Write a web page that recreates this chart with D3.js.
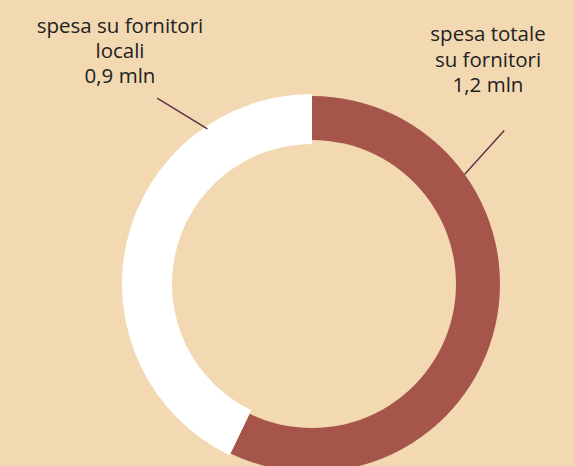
<!DOCTYPE html>
<html>
<head>
<meta charset="utf-8">
<script src="https://cdn.jsdelivr.net/npm/d3@7"></script>
<style>
    html, body { margin: 0; padding: 0; background: #f2d9b2; }
    svg { display: block; }
    .label { font-family: "Open Sans", sans-serif; font-size: 20.5px; fill: #222; }
</style>
</head>
<body>
<svg id="vis"></svg>
<script>
// data
var categories = ["spesa totale su fornitori", "spesa su fornitori locali"];
var values = [1.2, 0.9];
var valueLabels = ["1,2 mln", "0,9 mln"];
var labelLines = [
    ["spesa totale", "su fornitori", "1,2 mln"],
    ["spesa su fornitori", "locali", "0,9 mln"]
];

// layout
var width = 574, height = 466;
var cx = 312, cy = 284;
var colors = ["#a6554a", "#ffffff"];
var radii = [{ inner: 144, outer: 188 }, { inner: 140, outer: 190 }];
// label anchor = baseline of middle line, relative to centre
var labelPos = [{ x: 176, y: -217.5 }, { x: -192, y: -226 }];
// leader lines in polar coords (degrees clockwise from 12 o'clock)
var leaders = [
    { a0: 51.4, r0: 246, a1: 54.3, r1: 188 },
    { a0: -39.8, r0: 242, a1: -34, r1: 187 }
];
var lineHeight = 25.3;

var svg = d3.select("#vis")
    .attr("width", width)
    .attr("height", height);

var g = svg.append("g")
    .attr("transform", `translate(${cx} ${cy})`);

var pie = d3.pie().sort(null);
var arcs = pie(values);

var arc = d3.arc()
    .innerRadius((d, i) => radii[i].inner)
    .outerRadius((d, i) => radii[i].outer);

g.selectAll(".slice")
    .data(arcs)
    .enter().append("path")
    .attr("class", "slice")
    .attr("d", (d, i) => arc(d, i))
    .attr("fill", (d, i) => colors[i]);

function polar(a, r) {
    var t = a * Math.PI / 180;
    return [r * Math.sin(t), -r * Math.cos(t)];
}

// leader lines
g.selectAll(".leader")
    .data(leaders)
    .enter().append("line")
    .attr("class", "leader")
    .attr("x1", d => polar(d.a0, d.r0)[0])
    .attr("y1", d => polar(d.a0, d.r0)[1])
    .attr("x2", d => polar(d.a1, d.r1)[0])
    .attr("y2", d => polar(d.a1, d.r1)[1])
    .attr("stroke", "#5b3040")
    .attr("stroke-width", 1.4);

// labels
var labels = g.selectAll(".label")
    .data(categories)
    .enter().append("text")
    .attr("class", "label")
    .attr("text-anchor", "middle")
    .attr("transform", (d, i) => `translate(${labelPos[i].x} ${labelPos[i].y})`);

labels.selectAll("tspan")
    .data((d, i) => labelLines[i])
    .enter().append("tspan")
    .attr("x", 0)
    .attr("y", (d, j) => (j - 1) * lineHeight)
    .text(d => d);
</script>
</body>
</html>
